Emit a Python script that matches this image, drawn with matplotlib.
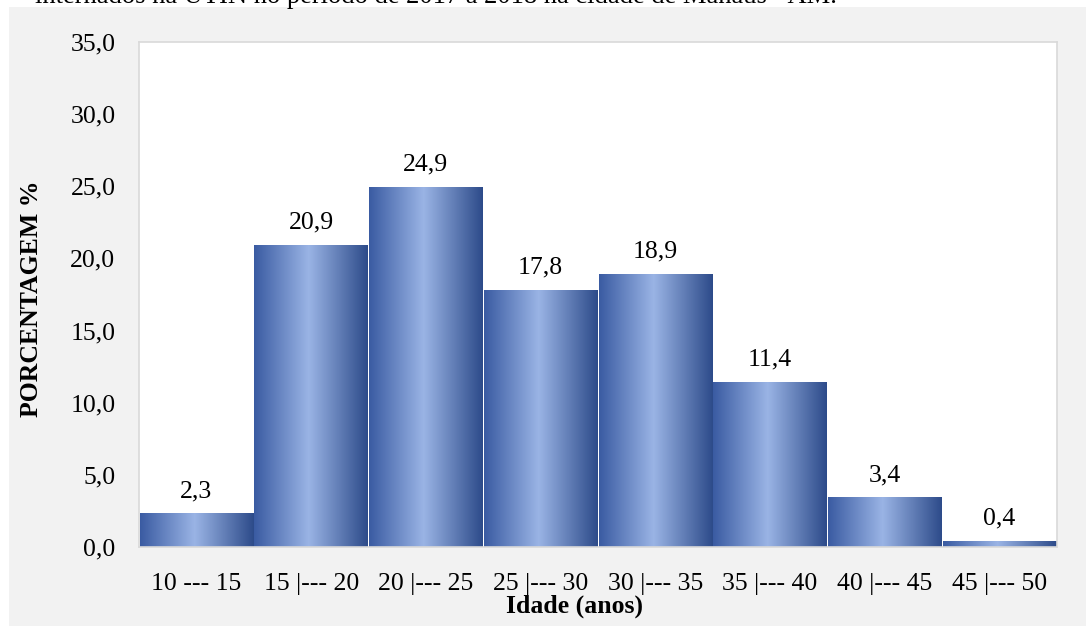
import matplotlib
matplotlib.use("Agg")
import matplotlib.pyplot as plt
import numpy as np
from matplotlib.colors import LinearSegmentedColormap
from matplotlib.patches import Rectangle

plt.rcParams['font.family'] = ['Liberation Serif', 'DejaVu Serif']

# data
faixas = ['10 --- 15', '15 |--- 20', '20 |--- 25', '25 |--- 30',
          '30 |--- 35', '35 |--- 40', '40 |--- 45', '45 |--- 50']
porcentagem = [2.3, 20.9, 24.9, 17.8, 18.9, 11.4, 3.4, 0.4]
yticks = [0, 5, 10, 15, 20, 25, 30, 35]

titulo_cortado = "internados na UTIN no período de 2017 a 2018 na cidade de Manaus - AM."


def virgula(v):
    return '{:.1f}'.format(v).replace('.', ',')


W, H = 1087, 626
fig = plt.figure(figsize=(W / 100, H / 100), dpi=100, facecolor='white')

# grey chart area background
fig.patches.append(Rectangle((9 / W, 0), (1086 - 9) / W, (H - 7) / H,
                             transform=fig.transFigure, facecolor='#f2f2f2',
                             edgecolor='none', zorder=-5))

# caption line from the document, cut off at the top
fig.text(35 / W, 1 - 3 / H, titulo_cortado, fontsize=19.1, va='baseline', ha='left')

ax = fig.add_axes([139 / W, 1 - 547 / H, (1057 - 139) / W, (547 - 42) / H])
ax.set_facecolor('white')

# horizontal gradient: dark edges, light centre
cmap = LinearSegmentedColormap.from_list(
    'barra', [(0.0, '#3a5ba2'), (0.48, '#9ab4e5'), (1.0, '#2d4b8a')])
grad = np.linspace(0, 1, 256).reshape(1, -1)

x = np.arange(len(faixas))
bars = ax.bar(x, porcentagem, width=0.988, color='none', edgecolor='none', zorder=2)
for b in bars:
    x0, w, h = b.get_x(), b.get_width(), b.get_height()
    ax.imshow(grad, cmap=cmap, aspect='auto', extent=(x0, x0 + w, 0, h),
              interpolation='bicubic', zorder=2)

for xi, v in zip(x, porcentagem):
    ax.annotate(virgula(v), (xi, v), xytext=(0, 8.5), textcoords='offset points',
                ha='center', va='bottom', fontsize=18.5)

ax.set_xlim(-0.5, len(faixas) - 0.5)
ax.set_ylim(0, 35)
ax.set_yticks(yticks)
ax.set_yticklabels([virgula(t) for t in yticks], fontsize=18.5)
ax.set_xticks(x)
ax.set_xticklabels(faixas, fontsize=18.5)
ax.tick_params(axis='x', length=0, pad=19)
ax.tick_params(axis='y', length=0, pad=17)

for s in ax.spines.values():
    s.set_color('#d9d9d9')
    s.set_linewidth(1.2)

fig.text(32 / W, 1 - 299 / H, 'PORCENTAGEM %', rotation=90, fontsize=18.5,
         fontweight='bold', ha='center', va='center')
fig.text(574 / W, 1 - 613 / H, 'Idade (anos)', fontsize=18.5, fontweight='bold',
         ha='center', va='baseline')

fig.savefig('out.png', dpi=100, facecolor='white')
